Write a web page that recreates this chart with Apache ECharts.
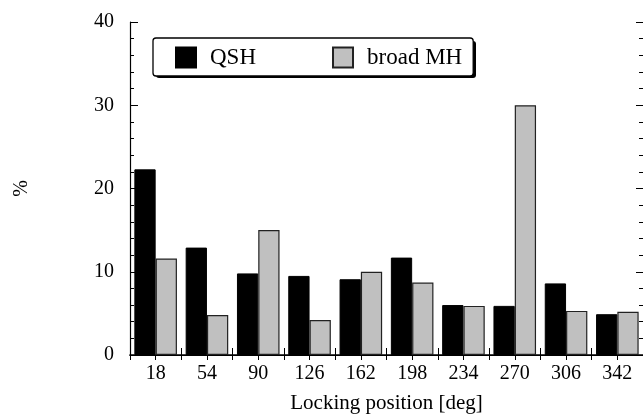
<!DOCTYPE html>
<html>
<head>
<meta charset="utf-8">
<script src="https://cdn.jsdelivr.net/npm/echarts@6/dist/echarts.min.js"></script>
<style>
  html, body { margin: 0; padding: 0; background: #fff; }
  #chart { width: 643px; height: 419px; }
</style>
</head>
<body>
<div id="chart"></div>
<script>
// Locking positions (deg) and the share (%) of each regime at that position
const positions = ['18', '54', '90', '126', '162', '198', '234', '270', '306', '342'];
const qshValues = [22.3, 12.9, 9.8, 9.5, 9.1, 11.7, 6.0, 5.9, 8.6, 4.9];
const broadMhValues = [11.6, 4.8, 15.0, 4.2, 10.0, 8.7, 5.9, 30.0, 5.3, 5.2];
const seriesNames = ['QSH', 'broad MH'];
const yTicks = [0, 10, 20, 30, 40];

const FONT = '"Liberation Serif", "Times New Roman", serif';

const chart = echarts.init(document.getElementById('chart'), null, { renderer: 'canvas' });

const axisLine = { show: true, lineStyle: { color: '#000', width: 1.2 } };

// legend frame geometry
const LEG_LEFT = 153, LEG_TOP = 38, LEG_W = 320, LEG_H = 37;

chart.setOption({
  animation: false,
  backgroundColor: '#fff',
  grid: { left: 130, top: 22, right: 0, bottom: 60, containLabel: false },
  graphic: [
    {
      // drop shadow behind the legend frame
      type: 'rect',
      z: 90,
      shape: { x: LEG_LEFT + 3, y: LEG_TOP + 3, width: LEG_W, height: LEG_H, r: 3 },
      style: { fill: '#000' }
    }
  ],
  legend: {
    data: seriesNames,
    left: LEG_LEFT,
    top: LEG_TOP,
    width: LEG_W,
    z: 100,
    orient: 'horizontal',
    icon: 'rect',
    itemWidth: 20,
    itemHeight: 20,
    itemGap: 76,
    padding: [8, 11, 7, 22],
    backgroundColor: '#fff',
    borderColor: '#000',
    borderWidth: 1.3,
    borderRadius: 3,
    textStyle: { fontFamily: FONT, fontSize: 23, color: '#000', padding: [0, 0, 0, 9] }
  },
  xAxis: [
    {
      type: 'category',
      data: positions,
      position: 'bottom',
      axisLine: { show: true, lineStyle: { color: '#000', width: 1.6 } },
      axisTick: { show: true, inside: true, length: 7, alignWithLabel: false, interval: 0,
                  lineStyle: { color: '#000', width: 1 } },
      axisLabel: { fontFamily: FONT, fontSize: 20, color: '#000', margin: 9, interval: 0 },
      name: 'Locking position [deg]',
      nameLocation: 'middle',
      nameGap: 38,
      nameTextStyle: { fontFamily: FONT, fontSize: 21, color: '#000' },
      splitLine: { show: false }
    },
    {
      // top frame with ticks at every half category
      type: 'value',
      position: 'top',
      min: 0,
      max: 20,
      interval: 1,
      axisLine: axisLine,
      axisTick: { show: true, inside: true, length: 5, lineStyle: { color: '#000', width: 1 } },
      axisLabel: { show: false },
      splitLine: { show: false }
    }
  ],
  yAxis: [
    {
      type: 'value',
      position: 'left',
      min: 0,
      max: 40,
      interval: 10,
      axisLine: axisLine,
      axisTick: { show: true, inside: true, length: 8, lineStyle: { color: '#000', width: 1 } },
      minorTick: { show: true, splitNumber: 5, length: 4, lineStyle: { color: '#000', width: 1 } },
      axisLabel: { fontFamily: FONT, fontSize: 20, color: '#000', margin: 16,
                   formatter: v => (yTicks.includes(v) ? String(v) : '') },
      splitLine: { show: false },
      minorSplitLine: { show: false },
      name: '%',
      nameLocation: 'middle',
      nameGap: 98,
      nameRotate: 90,
      nameTextStyle: { fontFamily: FONT, fontSize: 20, color: '#000' }
    },
    {
      type: 'value',
      position: 'right',
      min: 0,
      max: 40,
      interval: 10,
      axisLine: { show: false },
      axisTick: { show: true, inside: true, length: 7, lineStyle: { color: '#000', width: 1 } },
      minorTick: { show: true, splitNumber: 5, length: 4, lineStyle: { color: '#000', width: 1 } },
      axisLabel: { show: false },
      splitLine: { show: false },
      minorSplitLine: { show: false }
    }
  ],
  series: [
    {
      name: seriesNames[0],
      type: 'bar',
      xAxisIndex: 0,
      yAxisIndex: 0,
      data: qshValues,
      barGap: '0%',
      barCategoryGap: '17%',
      itemStyle: { color: '#000', borderColor: '#000', borderWidth: 1 }
    },
    {
      name: seriesNames[1],
      type: 'bar',
      xAxisIndex: 0,
      yAxisIndex: 0,
      data: broadMhValues,
      barGap: '0%',
      barCategoryGap: '17%',
      itemStyle: { color: '#c0c0c0', borderColor: '#222', borderWidth: 1.2 }
    }
  ]
});
</script>
</body>
</html>
